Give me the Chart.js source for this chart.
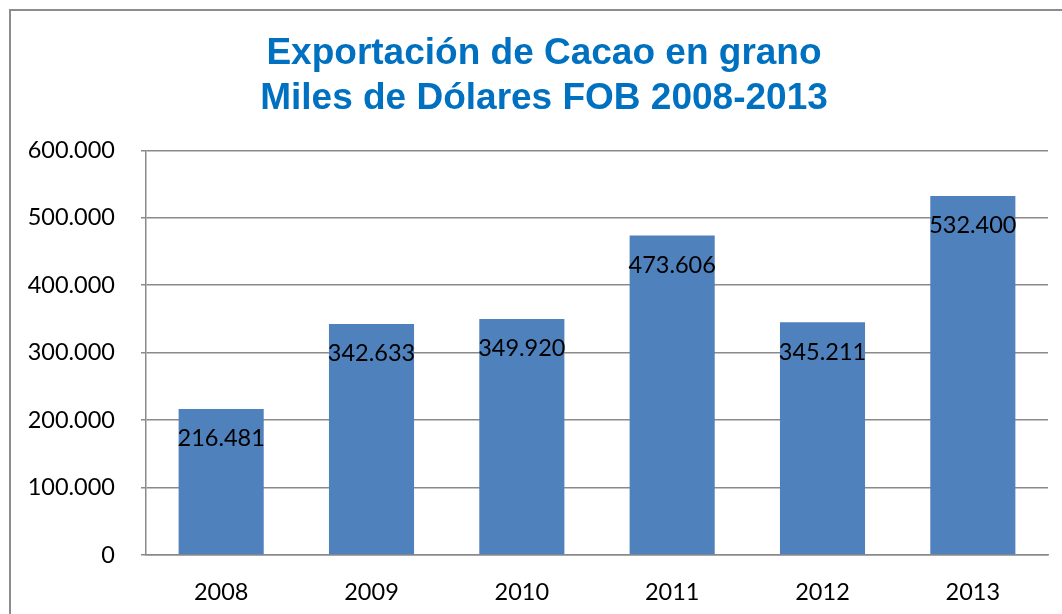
<!DOCTYPE html>
<html>
<head>
<meta charset="utf-8">
<style>
  html, body { margin: 0; padding: 0; background: #fff; overflow: hidden; }
  #box { position: absolute; left: 9px; top: 9px; width: 1100px; height: 700px; border: 2px solid #8c8c8c; background: #fff; }
  #chart { display: block; }
</style>
</head>
<body>
<div id="box"><canvas id="chart" width="1066" height="620"></canvas></div>

<script src="https://cdn.jsdelivr.net/npm/chart.js"></script>
<script>
  // datos
  const years = ['2008', '2009', '2010', '2011', '2012', '2013'];
  const exportValues = [216481, 342633, 349920, 473606, 345211, 532400];
  const valueLabels = ['216.481', '342.633', '349.920', '473.606', '345.211', '532.400'];
  const yTicks = [0, 100000, 200000, 300000, 400000, 500000, 600000];
  const yTickLabels = ['0', '100.000', '200.000', '300.000', '400.000', '500.000', '600.000'];

  const gridGray = '#8a8a8a';
  const txtFont = { family: 'Lato', size: 23.5 };

  // etiquetas dentro de la barra, cerca del extremo
  const barLabels = {
    id: 'barLabels',
    afterDatasetsDraw(chart) {
      const ctx = chart.ctx;
      const meta = chart.getDatasetMeta(0);
      ctx.save();
      ctx.font = '23.5px Lato';
      ctx.fillStyle = '#000';
      ctx.textAlign = 'center';
      ctx.textBaseline = 'alphabetic';
      meta.data.forEach((bar, i) => {
        ctx.fillText(valueLabels[i], bar.x, bar.y + 37.5);
      });
      ctx.restore();
    }
  };

  new Chart(document.getElementById('chart'), {
    type: 'bar',
    data: {
      labels: years,
      datasets: [{
        data: exportValues,
        backgroundColor: '#4F81BD',
        borderWidth: 0,
        categoryPercentage: 1,
        barPercentage: 0.566
      }]
    },
    options: {
      responsive: false,
      animation: false,
      layout: { padding: 0 },
      plugins: {
        legend: { display: false },
        tooltip: { enabled: false },
        title: {
          display: true,
          text: ['Exportación de Cacao en grano', 'Miles de Dólares FOB 2008-2013'],
          color: '#0070C0',
          font: { family: 'Liberation Sans', size: 37, weight: 'bold', lineHeight: 1.22 },
          padding: { top: 20, bottom: 29 }
        }
      },
      scales: {
        x: {
          grid: { display: false, drawTicks: false },
          border: { display: true, color: gridGray, width: 1.5 },
          ticks: { color: '#000', font: txtFont, padding: 23 },
          afterFit(s) { s.height = 76; }
        },
        y: {
          min: 0,
          max: 600000,
          afterBuildTicks(s) { s.ticks = yTicks.map(v => ({ value: v })); },
          grid: { color: gridGray, lineWidth: 1.5, tickLength: 5 },
          border: { display: true, color: gridGray, width: 1.5 },
          ticks: {
            color: '#000',
            font: txtFont,
            padding: 26,
            callback(v) { return yTickLabels[yTicks.indexOf(v)]; }
          },
          afterFit(s) { s.width = 135; }
        },
        // espacio vacío a la derecha del área de trazado
        yRight: {
          position: 'right',
          min: 0,
          max: 600000,
          grid: { display: false, drawTicks: false },
          border: { display: false },
          ticks: { display: false },
          afterFit(s) { s.width = 29; }
        }
      }
    },
    plugins: [barLabels]
  });
</script>
</body>
</html>
